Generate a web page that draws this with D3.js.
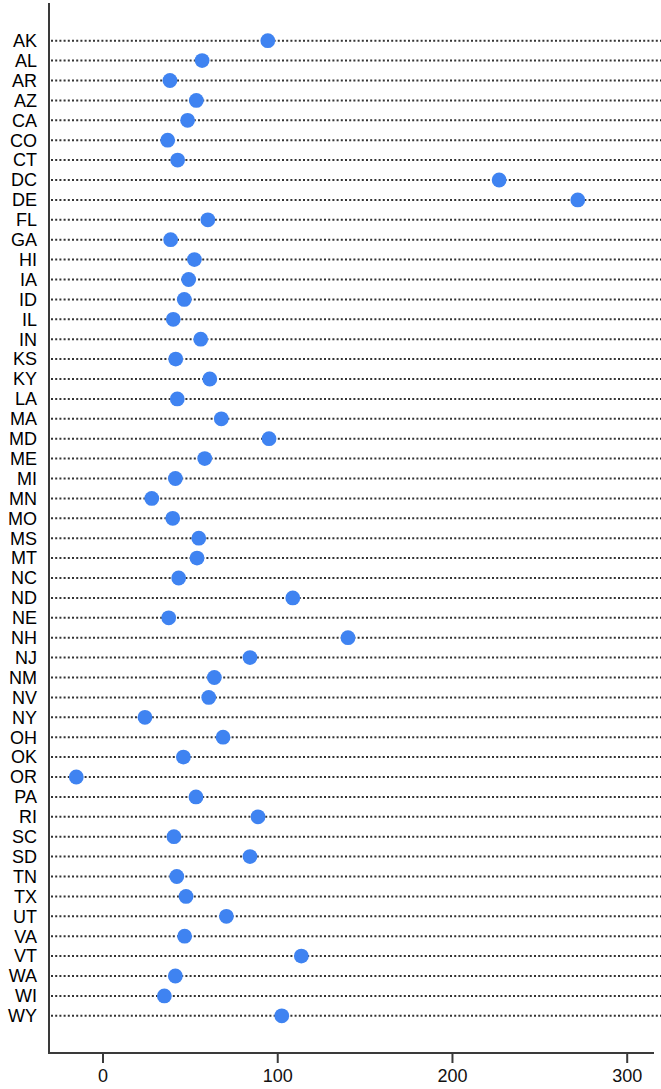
<!DOCTYPE html>
<html>
<head>
<meta charset="utf-8">
<script src="https://cdn.jsdelivr.net/npm/d3@7"></script>
<style>
  html, body { margin: 0; padding: 0; background: #fff; }
  svg { display: block; }
</style>
</head>
<body>
<svg id="chart" width="661" height="1089"></svg>
<script>
const states = ["AK","AL","AR","AZ","CA","CO","CT","DC","DE","FL","GA","HI","IA","ID","IL","IN","KS","KY","LA","MA","MD","ME","MI","MN","MO","MS","MT","NC","ND","NE","NH","NJ","NM","NV","NY","OH","OK","OR","PA","RI","SC","SD","TN","TX","UT","VA","VT","WA","WI","WY"];
const values = [94.6,57.0,38.6,53.7,48.7,37.3,43.0,227,272,60.3,39.0,52.6,49.3,46.8,40.5,56.2,41.9,61.4,42.8,68.0,95.3,58.5,41.7,28.2,40.2,55.1,54.1,43.6,108.9,37.9,140.5,84.4,64.0,60.8,24.3,69.0,46.3,-15.0,53.5,89.0,40.9,84.4,42.5,47.8,70.9,47.0,113.8,41.7,35.4,102.6];
const xTicks = [0, 100, 200, 300];

const svg = d3.select("#chart");
const x = d3.scaleLinear().domain([0, 300]).range([102.5, 626.7]);
const y = d3.scalePoint().domain(states).range([40.7, 1015.8]);

const axisX = 49, axisY = 1053, axisTop = 3, axisRight = 654;
const axisColor = "#3a3a3a";
const font = "'Liberation Sans', Arial, Helvetica, sans-serif";

// dotted guide lines
svg.append("g").selectAll("line").data(states).join("line")
  .attr("x1", axisX + 2).attr("x2", 661)
  .attr("y1", d => y(d)).attr("y2", d => y(d))
  .attr("stroke", "#333").attr("stroke-width", 2)
  .attr("stroke-dasharray", "2,2.2");

// category labels
svg.append("g").selectAll("text").data(states).join("text")
  .attr("x", 37).attr("y", d => y(d))
  .attr("dy", "0.35em")
  .attr("text-anchor", "end")
  .attr("font-family", font).attr("font-size", 18)
  .attr("fill", "#000")
  .text(d => d);

// points
svg.append("g").selectAll("circle").data(states).join("circle")
  .attr("cx", (d, i) => x(values[i]))
  .attr("cy", d => y(d))
  .attr("r", 7.4)
  .attr("fill", "#3f83f1");

// axes lines
svg.append("line").attr("x1", axisX).attr("x2", axisX).attr("y1", axisTop).attr("y2", axisY + 1)
  .attr("stroke", axisColor).attr("stroke-width", 2);
svg.append("line").attr("x1", axisX - 1).attr("x2", axisRight).attr("y1", axisY).attr("y2", axisY)
  .attr("stroke", axisColor).attr("stroke-width", 2);

// x axis ticks
const gx = svg.append("g").attr("transform", `translate(0,${axisY})`)
  .call(d3.axisBottom(x).tickValues(xTicks).tickSize(10).tickPadding(6).tickFormat(d3.format("d")));
gx.select(".domain").remove();
gx.selectAll(".tick line").attr("stroke", axisColor).attr("stroke-width", 2);
gx.selectAll(".tick text").attr("font-family", font).attr("font-size", 18).attr("fill", "#111");
</script>
</body>
</html>
